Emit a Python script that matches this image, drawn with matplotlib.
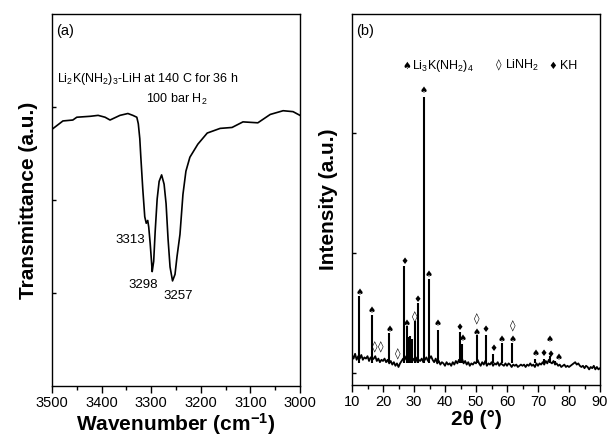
import numpy as np
import matplotlib
matplotlib.use("Agg")
import matplotlib.pyplot as plt
from matplotlib.ticker import MultipleLocator

plt.rcParams['font.family'] = ['Liberation Sans', 'DejaVu Sans']
plt.rcParams['mathtext.fontset'] = 'custom'
plt.rcParams['mathtext.rm'] = 'Liberation Sans'
plt.rcParams['mathtext.it'] = 'Liberation Sans:italic'
plt.rcParams['mathtext.bf'] = 'Liberation Sans:bold'

# ---- (a) FTIR data ----
wavenumber = [3500, 3478, 3458, 3450, 3423, 3407, 3393, 3383, 3363, 3347, 3337,
              3329, 3326, 3323, 3321, 3317, 3313, 3310, 3307, 3305, 3302, 3299,
              3298, 3295, 3292, 3288, 3284, 3279, 3274, 3270, 3266, 3262, 3257,
              3252, 3248, 3242, 3236, 3230, 3222, 3206, 3187, 3161, 3137, 3115,
              3085, 3060, 3034, 3014, 3000]
transmittance = [2.76, 2.85, 2.86, 2.89, 2.90, 2.91, 2.89, 2.86, 2.91, 2.93, 2.91,
                 2.89, 2.82, 2.66, 2.47, 2.12, 1.82, 1.75, 1.78, 1.71, 1.53, 1.31,
                 1.23, 1.34, 1.66, 2.01, 2.20, 2.27, 2.17, 1.96, 1.58, 1.28, 1.13,
                 1.20, 1.39, 1.63, 2.06, 2.31, 2.46, 2.60, 2.72, 2.77, 2.78, 2.84,
                 2.83, 2.92, 2.96, 2.95, 2.91]
ir_labels = ['3313', '3298', '3257']
ir_label_x = [3342, 3316, 3246]
ir_label_y = [1.57, 1.09, 0.97]

# ---- (b) XRD data ----
two_theta = np.arange(10, 90.01, 0.5)
background = [
    0.15, 0.12, 0.16, 0.11, 0.14, 0.12, 0.15, 0.11, 0.13, 0.12,
    0.14, 0.10, 0.13, 0.11, 0.12, 0.14, 0.10, 0.12, 0.09, 0.11,
    0.10, 0.12, 0.09, 0.11, 0.08, 0.10, 0.07, 0.09, 0.06, 0.08,
    0.05, 0.08, 0.10, 0.12, 0.11, 0.14, 0.12, 0.15, 0.13, 0.10,
    0.12, 0.09, 0.13, 0.11, 0.10, 0.12, 0.09, 0.11, 0.13, 0.10,
    0.12, 0.14, 0.11, 0.09, 0.12, 0.08, 0.10, 0.07, 0.09, 0.08,
    0.06, 0.09, 0.07, 0.08, 0.06, 0.09, 0.07, 0.10, 0.08, 0.11,
    0.09, 0.12, 0.08, 0.10, 0.07, 0.09, 0.06, 0.08, 0.07, 0.09,
    0.08, 0.11, 0.08, 0.06, 0.09, 0.07, 0.10, 0.06, 0.08, 0.07,
    0.09, 0.06, 0.08, 0.07, 0.09, 0.06, 0.08, 0.07, 0.06, 0.08,
    0.06, 0.08, 0.07, 0.05, 0.07, 0.06, 0.07, 0.05, 0.06, 0.07,
    0.06, 0.07, 0.05, 0.07, 0.06, 0.08, 0.06, 0.07, 0.05, 0.08,
    0.06, 0.08, 0.07, 0.09, 0.07, 0.10, 0.08, 0.11, 0.09, 0.08,
    0.10, 0.07, 0.08, 0.06, 0.07, 0.05, 0.06, 0.07, 0.05, 0.06,
    0.05, 0.06, 0.07, 0.08, 0.09, 0.07, 0.08, 0.06, 0.05, 0.06,
    0.04, 0.06, 0.05, 0.03, 0.05, 0.04, 0.06, 0.03, 0.05, 0.03,
    0.04]
peak_pos = [12.4, 16.4, 22.0, 26.8, 27.6, 28.3, 28.8, 29.4, 30.3, 31.3, 33.2,
            34.8, 37.8, 44.8, 45.6, 50.2, 53.1, 55.6, 58.4, 61.7, 69.1, 71.8,
            73.9, 75.5]
peak_height = [0.64, 0.48, 0.33, 0.89, 0.39, 0.30, 0.31, 0.28, 0.43, 0.58, 2.30,
               0.78, 0.36, 0.34, 0.24, 0.32, 0.32, 0.16, 0.25, 0.25, 0.12, 0.12,
               0.14, 0.10]
# phase markers (2theta, marker level)
li3k_x = [12.4, 16.4, 22.0, 27.6, 33.2, 34.8, 37.8, 45.7, 50.2, 58.4, 61.7,
          69.1, 73.9, 76.6]
li3k_y = [0.67, 0.52, 0.36, 0.41, 2.35, 0.82, 0.41, 0.29, 0.34, 0.28, 0.28,
          0.16, 0.28, 0.13]
kh_x = [26.8, 31.3, 44.8, 53.1, 55.6, 71.8, 74.2]
kh_y = [0.93, 0.61, 0.38, 0.36, 0.20, 0.16, 0.15]
linh2_x = [17.4, 19.4, 24.6, 30.3, 50.2, 61.7]
linh2_y = [0.21, 0.21, 0.16, 0.46, 0.45, 0.39]

fig = plt.figure(figsize=(6.16, 4.46), dpi=100)
ax1 = fig.add_axes([52 / 616, 60 / 446, 248 / 616, 372 / 446])
ax2 = fig.add_axes([352 / 616, 61 / 446, 248 / 616, 371 / 446])

for ax in (ax1, ax2):
    for s in ax.spines.values():
        s.set_linewidth(1.0)
    ax.tick_params(axis='x', direction='out', length=5, width=1.0, labelsize=10.5, pad=2)
    ax.tick_params(axis='x', which='minor', direction='out', length=3, width=1.0)
    ax.tick_params(axis='y', direction='in', length=3, width=1.0, labelleft=False)

# (a)
ax1.plot(wavenumber, transmittance, color='black', lw=1.2)
ax1.set_xlim(3500, 3000)
ax1.set_ylim(0, 4)
ax1.set_yticks([1, 2, 3])
ax1.xaxis.set_major_locator(MultipleLocator(100))
ax1.xaxis.set_minor_locator(MultipleLocator(50))
ax1.set_xlabel('Wavenumber (cm$^{\\mathbf{-1}}$)', fontsize=15, fontweight='bold', labelpad=1)
ax1.set_ylabel('Transmittance (a.u.)', fontsize=15, fontweight='bold', labelpad=10)
for t, x, y in zip(ir_labels, ir_label_x, ir_label_y):
    ax1.text(x, y, t, fontsize=9.5, ha='center', va='center')
ax1.text(0.015, 0.955, '(a)', transform=ax1.transAxes, fontsize=10.5, va='center')
ax1.text(0.02, 0.825, 'Li$_2$K(NH$_2$)$_3$-LiH at 140 C for 36 h',
         transform=ax1.transAxes, fontsize=9, va='center')
ax1.text(0.38, 0.77, '100 bar H$_2$', transform=ax1.transAxes, fontsize=9, va='center')

# (b)
ax2.plot(two_theta, background, color='black', lw=1.3)
ax2.vlines(peak_pos, 0.08, peak_height, color='black', lw=1.5)
ax2.set_xlim(10, 90)
ax2.set_ylim(-0.1, 2.99)
ax2.set_yticks([0, 1, 2])
ax2.xaxis.set_major_locator(MultipleLocator(10))
ax2.xaxis.set_minor_locator(MultipleLocator(5))
ax2.set_xlabel('2θ (°)', fontsize=15, fontweight='bold', labelpad=1)
ax2.set_ylabel('Intensity (a.u.)', fontsize=15, fontweight='bold', labelpad=10)
for x, y in zip(li3k_x, li3k_y):
    ax2.text(x, y, '♠', family='DejaVu Sans', fontsize=6.5, ha='center', va='center')
for x, y in zip(kh_x, kh_y):
    ax2.text(x, y, '♦', family='DejaVu Sans', fontsize=6.5, ha='center', va='center')
for x, y in zip(linh2_x, linh2_y):
    ax2.text(x, y, '◊', family='DejaVu Sans', fontsize=8, ha='center', va='center')
ax2.text(0.015, 0.955, '(b)', transform=ax2.transAxes, fontsize=10.5, va='center')
ax2.text(27.7, 2.56, '♠', family='DejaVu Sans', fontsize=7, ha='center', va='center')
ax2.text(29.5, 2.56, 'Li$_3$K(NH$_2$)$_4$', fontsize=9, va='center')
ax2.text(57.4, 2.56, '◊', family='DejaVu Sans', fontsize=8, ha='center', va='center')
ax2.text(59.2, 2.56, 'LiNH$_2$', fontsize=9, va='center')
ax2.text(74.8, 2.56, '♦', family='DejaVu Sans', fontsize=7, ha='center', va='center')
ax2.text(77.0, 2.56, 'KH', fontsize=9, va='center')

fig.savefig('out.png', dpi=100)
